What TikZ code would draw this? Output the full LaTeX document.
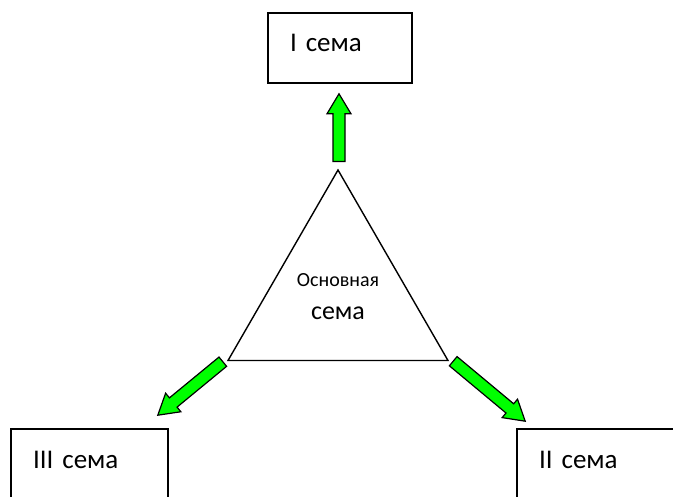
\documentclass[tikz,border=0pt]{standalone}
\usepackage{fontspec}
\setmainfont{Carlito}
\usepackage{tikz}
\usetikzlibrary{shapes, positioning, calc}
\tikzset{
    semabox/.style={rectangle, draw, line width=1.6pt, minimum height=70pt, inner xsep=22pt, inner ysep=0pt, align=left, text height=18pt, text depth=10pt, font=\fontsize{27}{32}\selectfont},
    core/.style={regular polygon, regular polygon sides=3, draw, line width=1.4pt, minimum size=254pt, inner sep=0pt, align=center, font=\fontsize{26}{33}\selectfont},
    greenarrow/.style={draw, fill=green, line width=1.2pt, line join=miter}
}
% block arrow from #1 (tail) to #2 (tip)
\newcommand{\semaarrow}[2]{%
    \coordinate (hb) at ($(#2)!20pt!(#1)$);
    \draw[greenarrow] ($(#1)!6pt!90:(#2)$) -- ($(hb)!6pt!90:(#2)$) -- ($(hb)!12pt!90:(#2)$) -- (#2)
        -- ($(hb)!12pt!-90:(#2)$) -- ($(hb)!6pt!-90:(#2)$) -- ($(#1)!6pt!-90:(#2)$) -- cycle;
}
\begin{document}
\begin{tikzpicture}[x=1pt, y=-1pt]
    \clip (0,0) rectangle (673,497);

    \node[core] (tri) at (338,297) {{\fontsize{20}{33}\selectfont Основная}\\сема};
    \node[semabox, text width=100pt] (s1) at (340,48) {I сема};
    \node[semabox, text width=113pt] (s2) at (595.5,464) {II сема};
    \node[semabox, text width=113pt] (s3) at (89.5,464) {III сема};

    \coordinate (t1) at ($(tri.corner 1)+(1,-7)$);
    \coordinate (h1) at ($(s1.south)+(-1,10)$);
    \coordinate (t2) at ($(tri.corner 3)+(4,0)$);
    \coordinate (h2) at ($(s2.north west)+(9,-7)$);
    \coordinate (t3) at ($(tri.corner 2)+(-4,0.5)$);
    \coordinate (h3) at ($(s3.north east)+(-11,-13)$);

    \semaarrow{t1}{h1}
    \semaarrow{t2}{h2}
    \semaarrow{t3}{h3}
\end{tikzpicture}
\end{document}
